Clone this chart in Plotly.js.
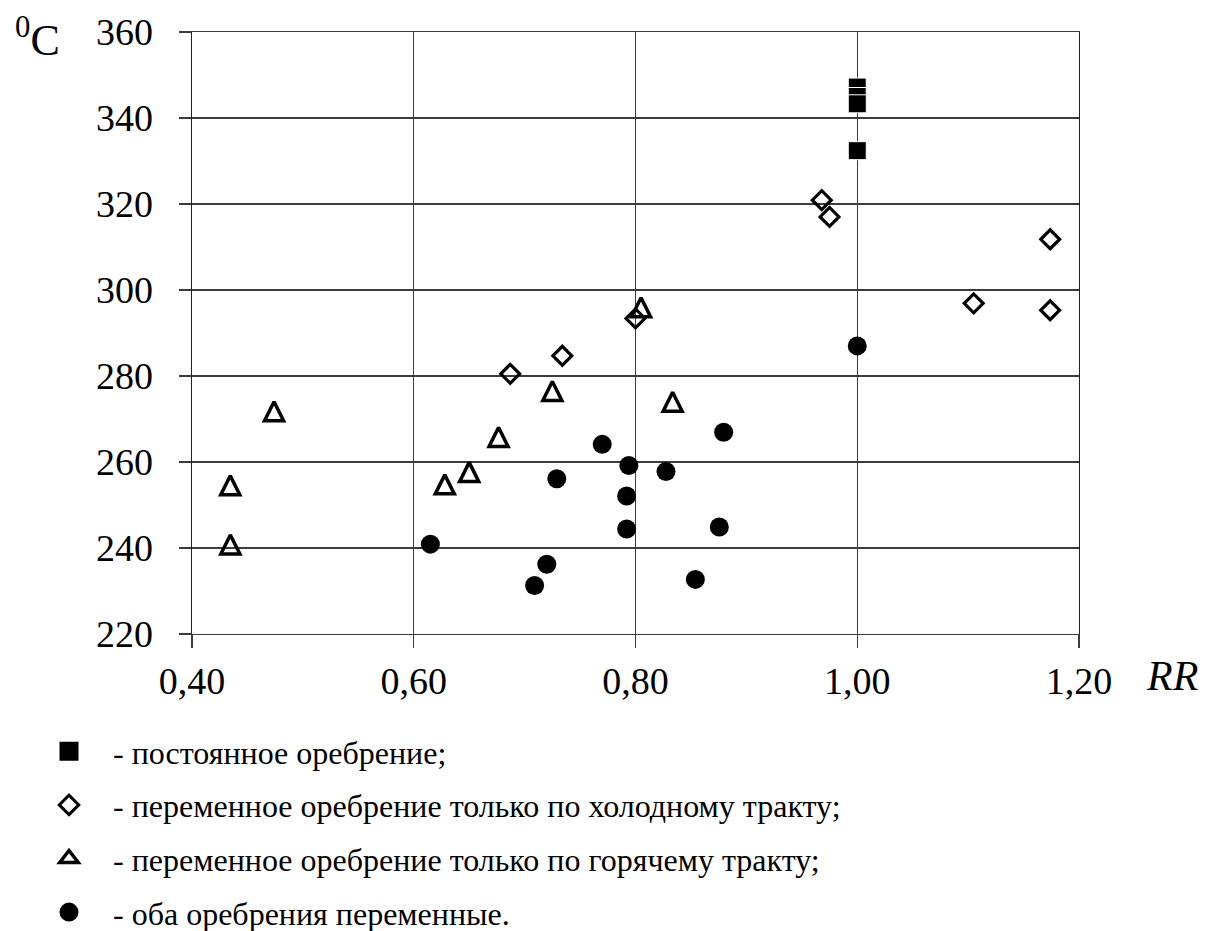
<!DOCTYPE html>
<html>
<head>
<meta charset="utf-8">
<script src="https://cdn.plot.ly/plotly-3.0.1.min.js"></script>
<style>html,body{margin:0;padding:0;background:#fff;}#chart{width:1222px;height:931px;}</style>
</head>
<body>
<div id="chart"></div>
<script>
// ---- data ----
const seriesNames = [
  "- постоянное оребрение;",
  "- переменное оребрение только по холодному тракту;",
  "- переменное оребрение только по горячему тракту;",
  "- оба оребрения переменные."
];
const constX = [1.000, 1.000, 1.000, 1.000];
const constY = [347.2, 345.0, 343.3, 332.4];

const coldX = [0.687, 0.734, 0.800, 0.968, 0.975, 1.105, 1.174, 1.174];
const coldY = [280.5, 284.7, 293.4, 320.9, 317.0, 296.9, 311.8, 295.3];

const hotX = [0.4345, 0.4346, 0.474, 0.628, 0.650, 0.6765, 0.725, 0.805, 0.8335];
const hotY = [254.6, 240.8, 271.8, 254.8, 257.7, 265.8, 276.5, 296.0, 274.0];

const bothX = [0.615, 0.709, 0.720, 0.729, 0.770, 0.792, 0.792, 0.794, 0.8275, 0.854, 0.8756, 0.8795, 1.000];
const bothY = [240.9, 231.3, 236.2, 256.1, 264.1, 252.1, 244.4, 259.2, 257.8, 232.7, 244.9, 266.9, 287.0];

const xTicks = [0.40, 0.60, 0.80, 1.00, 1.20];
const yTicks = [220, 240, 260, 280, 300, 320, 340, 360];

// ---- drawing ----
const NB = "\u00a0\u00a0\u00a0";
const triSize = 19;

const traces = [
  {x: constX, y: constY, mode: "markers", type: "scatter", showlegend: false,
   marker: {symbol: "square", size: 18, color: "#000", line: {color: "#fff", width: 1}}},
  {x: coldX, y: coldY, mode: "markers", type: "scatter", showlegend: false,
   marker: {symbol: "diamond-open", size: 14.5, color: "#000", line: {color: "#000", width: 3.2}}},
  {x: hotX, y: hotY, mode: "markers", type: "scatter", showlegend: false,
   marker: {symbol: "arrow-down-open", angle: 180, standoff: triSize / 2, size: triSize, color: "#000", line: {color: "#000", width: 3.5}}},
  {x: bothX, y: bothY, mode: "markers", type: "scatter", showlegend: false,
   marker: {symbol: "circle", size: 19, color: "#000", line: {width: 0}}},
  // legend entries
  {x: [null], y: [null], mode: "markers", type: "scatter", name: NB + seriesNames[0], legendgroup: "a",
   marker: {symbol: "square", size: 16, color: "#000", line: {color: "#000", width: 3}}},
  {x: [null], y: [null], mode: "markers", type: "scatter", name: NB + seriesNames[1], legendgroup: "b",
   marker: {symbol: "diamond-open", size: 15, color: "#000", line: {color: "#000", width: 3}}},
  {x: [null], y: [null], mode: "markers", type: "scatter", name: NB + seriesNames[2], legendgroup: "c",
   marker: {symbol: "triangle-up-open", size: 16, color: "#000", line: {color: "#000", width: 3.5}}},
  {x: [null], y: [null], mode: "markers", type: "scatter", name: NB + seriesNames[3], legendgroup: "d",
   marker: {symbol: "circle", size: 16, color: "#000", line: {color: "#000", width: 3}}}
];

const PW = 887, PH = 602, ML = 192, MT = 32;
const toPX = v => (v - ML) / PW;
const toPY = v => (MT + PH - v) / PH;

const layout = {
  width: 1222, height: 931,
  margin: {l: ML, r: 1222 - ML - PW, t: MT, b: 931 - MT - PH, pad: 0, autoexpand: false},
  paper_bgcolor: "#fff", plot_bgcolor: "#fff",
  separators: ", ",
  font: {family: "Liberation Serif", size: 32, color: "#000"},
  showlegend: true,
  xaxis: {
    range: [0.40, 1.20], tickvals: xTicks, tickformat: ".2f",
    showgrid: true, gridcolor: "#3c3c3c", gridwidth: 1.3,
    showline: true, mirror: true, linecolor: "#3c3c3c", linewidth: 1.3,
    zeroline: false, ticks: "outside", ticklen: 13, tickwidth: 1.3, tickcolor: "#3c3c3c",
    tickfont: {family: "Liberation Serif", size: 38, color: "#000"}, ticklabelstandoff: 0
  },
  yaxis: {
    range: [220, 360], tickvals: yTicks,
    showgrid: true, gridcolor: "#3c3c3c", gridwidth: 1.3,
    showline: true, mirror: true, linecolor: "#222", linewidth: 1.4,
    zeroline: false, ticks: "outside", ticklen: 12, tickwidth: 1.3, tickcolor: "#3c3c3c",
    tickfont: {family: "Liberation Serif", size: 38, color: "#000"}, ticklabelstandoff: 18
  },
  legend: {
    x: toPX(49), y: toPY(724), xanchor: "left", yanchor: "top",
    font: {family: "Liberation Serif", size: 32, color: "#000"},
    bgcolor: "rgba(0,0,0,0)", borderwidth: 0, tracegroupgap: 9,
    orientation: "v"
  },
  annotations: [
    {xref: "paper", yref: "paper", x: toPX(1172), y: toPY(676), xanchor: "center", yanchor: "middle",
     text: "<i>RR</i>", showarrow: false, font: {family: "Liberation Serif", size: 42, color: "#000"}},
    {xref: "paper", yref: "paper", x: toPX(37), y: toPY(37), xanchor: "center", yanchor: "middle",
     text: "<sup>0</sup>C", showarrow: false, font: {family: "Liberation Serif", size: 44, color: "#000"}}
  ]
};

Plotly.newPlot("chart", traces, layout, {displayModeBar: false, staticPlot: true});
</script>
</body>
</html>
